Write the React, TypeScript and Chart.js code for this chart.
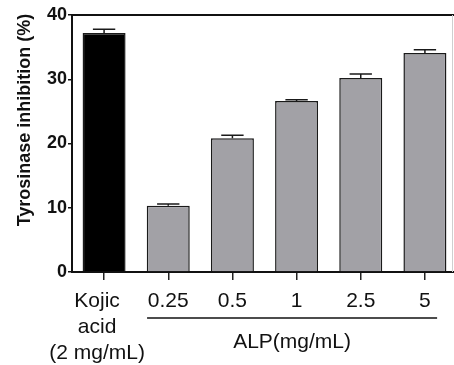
import React, { useEffect, useRef } from "react";
import { Chart, registerables } from "chart.js";

Chart.register(...registerables);

const categories: (string | string[])[] = [["Kojic", "acid", "(2 mg/mL)"], "0.25", "0.5", "1", "2.5", "5"];
const inhibition = [37.2, 10.3, 20.8, 26.6, 30.2, 34.1];
const errors = [0.6, 0.3, 0.5, 0.2, 0.6, 0.5];
const barColors = ["#000000", "#a2a1a6", "#a2a1a6", "#a2a1a6", "#a2a1a6", "#a2a1a6"];
const yTicks = [0, 10, 20, 30, 40];
const yTitle = "Tyrosinase inhibition (%)";
const groupLabel = "ALP(mg/mL)";

const FONT = "'Liberation Sans', Arial, sans-serif";

const extrasPlugin = {
  id: "extras",
  afterDatasetsDraw(chart: any) {
    const ctx = chart.ctx;
    const meta = chart.getDatasetMeta(0);
    const y = chart.scales.y;
    ctx.save();
    ctx.strokeStyle = "#1a1a1a";
    ctx.lineWidth = 1.5;
    meta.data.forEach((bar: any, i: number) => {
      const top = y.getPixelForValue(inhibition[i]);
      const errY = y.getPixelForValue(inhibition[i] + errors[i]);
      const half = bar.width * 0.26;
      ctx.beginPath();
      ctx.moveTo(bar.x, top);
      ctx.lineTo(bar.x, errY);
      ctx.moveTo(bar.x - half, errY);
      ctx.lineTo(bar.x + half, errY);
      ctx.stroke();
    });
    ctx.restore();
  },
  afterDraw(chart: any) {
    const ctx = chart.ctx;
    const area = chart.chartArea;
    const x = chart.scales.x;
    ctx.save();
    ctx.strokeStyle = "#111";
    ctx.lineWidth = 2;
    ctx.beginPath();
    ctx.moveTo(area.left, area.top);
    ctx.lineTo(chart.width, area.top);
    ctx.stroke();
    ctx.strokeStyle = "#cfcfcf";
    ctx.lineWidth = 1;
    ctx.beginPath();
    ctx.moveTo(452.5, area.top);
    ctx.lineTo(452.5, area.bottom);
    ctx.stroke();
    ctx.fillStyle = "#111";
    ctx.font = `bold 18px ${FONT}`;
    ctx.textAlign = "center";
    ctx.textBaseline = "middle";
    ctx.translate(25, 120);
    ctx.rotate(-Math.PI / 2);
    ctx.fillText(yTitle, 0, 0);
    ctx.restore();

    // x category labels
    ctx.save();
    ctx.fillStyle = "#111";
    ctx.font = `21px ${FONT}`;
    ctx.textAlign = "center";
    ctx.textBaseline = "alphabetic";
    categories.forEach((lab, i) => {
      const px = x.getPixelForValue(i);
      const lines = Array.isArray(lab) ? lab : [lab];
      const shift = lines.length > 1 ? -7 : 0;
      lines.forEach((t, k) => {
        ctx.fillText(t, px + shift, area.bottom + 35 + k * 25.8);
      });
    });
    ctx.restore();

    // group line + label
    ctx.save();
    const step = x.getPixelForValue(1) - x.getPixelForValue(0);
    const x1 = x.getPixelForValue(1) - step * 0.33;
    const x2 = x.getPixelForValue(5) + step * 0.19;
    const ly = area.bottom + 46;
    ctx.strokeStyle = "#111";
    ctx.lineWidth = 1.5;
    ctx.beginPath();
    ctx.moveTo(x1, ly);
    ctx.lineTo(x2, ly);
    ctx.stroke();
    ctx.fillStyle = "#111";
    ctx.font = `21px ${FONT}`;
    ctx.textAlign = "center";
    ctx.textBaseline = "alphabetic";
    ctx.fillText(groupLabel, (x1 + x2) / 2, ly + 30);
    ctx.restore();
  },
};

export default function App() {
  const ref = useRef<HTMLCanvasElement | null>(null);
  useEffect(() => {
    if (!ref.current) return;
    const chart = new Chart(ref.current, {
      type: "bar",
      data: {
        labels: categories.map((c) => (Array.isArray(c) ? c.join(" ") : c)),
        datasets: [
          {
            data: inhibition,
            backgroundColor: barColors,
            borderColor: "#1a1a1a",
            borderWidth: 1.5,
            barPercentage: 0.67,
            categoryPercentage: 1,
          },
        ],
      },
      options: {
        responsive: false,
        animation: false,
        devicePixelRatio: 1,
        layout: { padding: { top: 15, right: 3, left: 0, bottom: 0 } },
        plugins: { legend: { display: false }, tooltip: { enabled: false } },
        scales: {
          x: {
            offset: true,
            grid: {
              display: true,
              offset: false,
              drawOnChartArea: false,
              drawTicks: true,
              tickLength: 8,
              color: "#222",
              lineWidth: 1.5,
            },
            border: { display: true, color: "#111", width: 2 },
            ticks: { display: false },
            afterFit: (s: any) => {
              s.height = 93;
            },
          },
          y: {
            min: 0,
            max: 40,
            afterBuildTicks: (s: any) => {
              s.ticks = yTicks.map((v) => ({ value: v }));
            },
            grid: {
              display: true,
              drawOnChartArea: false,
              drawTicks: true,
              tickLength: 4,
              color: "#111",
              lineWidth: 1.5,
            },
            border: { display: true, color: "#111", width: 2 },
            ticks: {
              color: "#111",
              padding: 1,
              font: { family: FONT, size: 18, weight: "bold" },
            },
            afterFit: (s: any) => {
              s.width = 72;
            },
          },
        },
      },
      plugins: [extrasPlugin],
    });
    return () => chart.destroy();
  }, []);

  return (
    <div
      style={{
        position: "fixed",
        left: 0,
        top: 0,
        width: 454,
        height: 365,
        overflow: "hidden",
        background: "#fff",
      }}
    >
      <canvas ref={ref} width={460} height={365} style={{ width: 460, height: 365, display: "block" }} />
    </div>
  );
}
